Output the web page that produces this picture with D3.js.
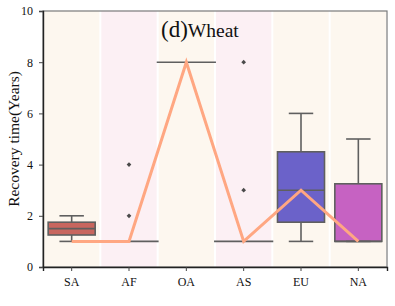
<!DOCTYPE html>
<html>
<head>
<meta charset="utf-8">
<script src="https://cdn.jsdelivr.net/npm/d3@7"></script>
<style>
  body { margin: 0; background: #fff; }
  svg text { font-family: "Liberation Serif", "Times New Roman", "DejaVu Serif", serif; }
</style>
</head>
<body>
<svg id="chart"></svg>
<script>
const regions = ["SA", "AF", "OA", "AS", "EU", "NA"];
// box stats: [whiskerLow, q1, median, q3, whiskerHigh]
const boxStats = [
  [1, 1.25, 1.5, 1.75, 2],
  [1, 1, 1, 1, 1],
  [8, 8, 8, 8, 8],
  [1, 1, 1, 1, 1],
  [1, 1.75, 3, 4.5, 6],
  [1, 1, 1, 3.25, 5]
];
const outliers = [[], [2, 4], [], [3, 8], [], []];
const lineValues = [1, 1, 8, 1, 3, 1];
const boxColors = ["#c8665f", "#c8665f", "#c8665f", "#c8665f", "#6b62c9", "#c662c2"];
const bandColors = ["#fdf7ef", "#fcf0f4", "#fdf7ef", "#fcf0f4", "#fdf7ef", "#fdf7ef"];
const yTicks = [0, 2, 4, 6, 8, 10];

const width = 395, height = 306;
const margin = { top: 11, right: 8, bottom: 39, left: 43 };
const serif = '"Liberation Serif", "Times New Roman", "DejaVu Serif", serif';

const svg = d3.select("#chart").attr("width", width).attr("height", height);

const x = d3.scaleBand()
  .domain(regions)
  .range([margin.left, width - margin.right])
  .padding(0);

const y = d3.scaleLinear()
  .domain([0, 10])
  .range([height - margin.bottom, margin.top]);

// background bands
svg.append("g").selectAll("rect")
  .data(regions)
  .join("rect")
  .attr("x", d => x(d) + 1)
  .attr("width", x.bandwidth() - 2)
  .attr("y", margin.top)
  .attr("height", y(0) - margin.top)
  .attr("fill", (d, i) => bandColors[i]);

const boxW = x.bandwidth() * 0.82;
const capW = boxW * 0.52;
const edge = "#5f5f5f";

const boxes = svg.append("g").selectAll("g")
  .data(regions)
  .join("g")
  .attr("transform", d => `translate(${x(d) + x.bandwidth() / 2},0)`);

boxes.each(function(d, i) {
  const g = d3.select(this);
  const [lo, q1, med, q3, hi] = boxStats[i];
  if (q3 > q1) {
    g.append("line").attr("x1", 0).attr("x2", 0).attr("y1", y(lo)).attr("y2", y(q1))
      .attr("stroke", edge).attr("stroke-width", 1.6);
    g.append("line").attr("x1", 0).attr("x2", 0).attr("y1", y(q3)).attr("y2", y(hi))
      .attr("stroke", edge).attr("stroke-width", 1.6);
    g.append("rect")
      .attr("x", -boxW / 2).attr("width", boxW)
      .attr("y", y(q3)).attr("height", y(q1) - y(q3))
      .attr("fill", boxColors[i]).attr("stroke", edge).attr("stroke-width", 1.6);
    g.append("line").attr("x1", -boxW / 2).attr("x2", boxW / 2)
      .attr("y1", y(med)).attr("y2", y(med))
      .attr("stroke", edge).attr("stroke-width", 1.6);
    [lo, hi].forEach(v => g.append("line")
      .attr("x1", -capW / 2).attr("x2", capW / 2)
      .attr("y1", y(v)).attr("y2", y(v))
      .attr("stroke", edge).attr("stroke-width", 1.6));
  } else {
    // degenerate box: a single flat line
    g.append("line").attr("x1", -boxW * 0.63).attr("x2", boxW * 0.63)
      .attr("y1", y(med)).attr("y2", y(med))
      .attr("stroke", edge).attr("stroke-width", 1.6);
  }
  g.selectAll("path.out")
    .data(outliers[i])
    .join("path")
    .attr("class", "out")
    .attr("d", d3.symbol(d3.symbolDiamond2, 14))
    .attr("transform", v => `translate(0,${y(v)})`)
    .attr("fill", "#4a4a4a");
});

// line through medians
const line = d3.line()
  .x((d, i) => x(regions[i]) + x.bandwidth() / 2)
  .y(d => y(d));

svg.append("path")
  .datum(lineValues)
  .attr("fill", "none")
  .attr("stroke", "#ffa782")
  .attr("stroke-width", 3)
  .attr("stroke-linejoin", "miter")
  .attr("d", line);

// frame
svg.append("rect")
  .attr("x", margin.left).attr("y", margin.top)
  .attr("width", width - margin.right - margin.left)
  .attr("height", y(0) - margin.top)
  .attr("fill", "none").attr("stroke", "#7a7a7a").attr("stroke-width", 1.2);

// axes
const xAxis = svg.append("g")
  .attr("transform", `translate(0,${y(0)})`)
  .call(d3.axisBottom(x).tickSize(4).tickPadding(6));
const yAxis = svg.append("g")
  .attr("transform", `translate(${margin.left},0)`)
  .call(d3.axisLeft(y).tickValues(yTicks).tickSize(4).tickPadding(6));

[xAxis, yAxis].forEach(a => {
  a.attr("font-family", serif);
  a.select(".domain").attr("stroke", "#222").attr("stroke-width", 1.4);
  a.selectAll(".tick line").attr("stroke", "#444");
  a.selectAll(".tick text").attr("font-size", 12).attr("fill", "#111");
});

// y label
svg.append("text")
  .attr("transform", `translate(19,${(margin.top + y(0)) / 2}) rotate(-90)`)
  .attr("text-anchor", "middle")
  .attr("font-family", serif)
  .attr("font-size", 15.5)
  .attr("fill", "#111")
  .text("Recovery time(Years)");

// title
const title = svg.append("text")
  .attr("x", 161)
  .attr("y", 37)
  .attr("font-family", serif)
  .attr("fill", "#111");
title.append("tspan").attr("font-size", 23).text("(d)");
title.append("tspan").attr("font-size", 19.5).text("Wheat");
</script>
</body>
</html>
